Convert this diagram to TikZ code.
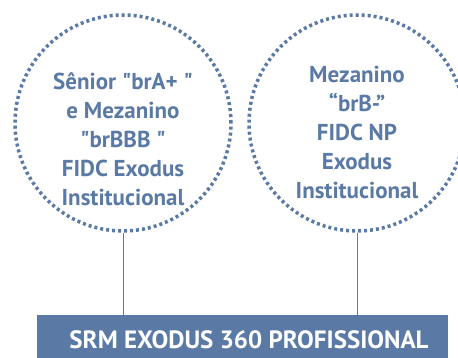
\documentclass[tikz,border=0pt]{standalone}
\usepackage{fontspec}
\setmainfont{PT Sans}[Ligatures=TeXOff]
\usepackage{tikz}
\usetikzlibrary{positioning}
\definecolor{srmblue}{HTML}{5A7AA5}

\begin{document}
\begin{tikzpicture}[x=1pt,y=-1pt,node distance=234pt,on grid,
    tranche/.style={circle,draw=srmblue,line width=3.5pt,dash pattern=on 3pt off 3pt,minimum size=216pt,inner sep=0pt},
    tranchetxt/.style={align=center,text=srmblue,font=\bfseries\fontsize{23}{29}\selectfont},
    fundo/.style={fill=srmblue,minimum width=411pt,minimum height=50pt,text=white,font=\bfseries\fontsize{25}{30}\selectfont}]
    \useasboundingbox (0,0) rectangle (458,358);
    \clip (0,0) rectangle (458,358);
    \node[tranche] (senior) at (123,123) {};
    \node[tranche] (mezanino) [right=of senior] {};
    \node[tranchetxt] (senior-txt) at ([yshift=-16pt]senior.center) {Sênior "brA+ "\\ e Mezanino\\"brBBB "\\FIDC Exodus\\Institucional};
    \node[tranchetxt] (mezanino-txt) at ([yshift=-9pt]mezanino.center) {Mezanino\\“brB-”\\FIDC NP\\Exodus\\Institucional};
    \node[fundo] (srm) at (242.5,340) {\hspace{13pt}SRM EXODUS 360 PROFISSIONAL};
    \draw[srmblue,line width=1pt] (senior.south) -- (senior.south |- srm.north)
        (mezanino.south) -- (mezanino.south |- srm.north);
\end{tikzpicture}
\end{document}
